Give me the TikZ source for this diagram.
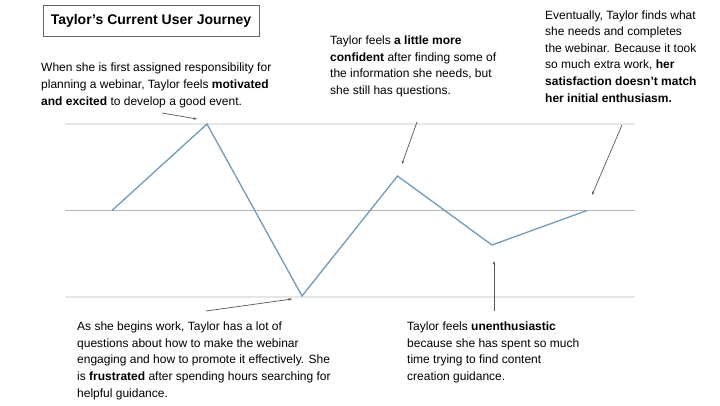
\documentclass[tikz,border=0pt]{standalone}
\usepackage{fontspec}
\setmainfont{Liberation Sans}
\usetikzlibrary{arrows.meta,calc}
\definecolor{journeyBlue}{HTML}{6F9ABB}
\definecolor{gridLight}{HTML}{E6E6E6}
\definecolor{gridMid}{HTML}{B5B5B5}
\definecolor{pointerGray}{HTML}{555555}
\definecolor{boxGray}{HTML}{666666}

\begin{document}
\begin{tikzpicture}[x=1pt,y=-1pt,
  note/.style={anchor=north west,inner sep=0pt,align=left,font=\fontsize{12}{16.6}\selectfont},
  pointer/.style={-{Stealth[length=3.5pt,width=2.6pt]},pointerGray,line width=.7pt}]
  \useasboundingbox (0,0) rectangle (720,405);

  \node[draw=boxGray,line width=.8pt,minimum width=216pt,minimum height=31pt,
    font=\fontsize{14}{16}\selectfont\bfseries] (title) at (151,20.5) {Taylor’s Current User Journey};

  \draw[gridLight,line width=1.5pt] (65,124) -- (635,124);
  \draw[gridMid,line width=1.5pt] (65,210.5) -- (635,210.5);
  \draw[gridLight,line width=1.5pt] (65,297) -- (635,297);

  \coordinate (start) at (112,210.5);
  \coordinate (peak) at (207,124);
  \coordinate (low) at (302,296);
  \coordinate (rise) at (397.5,176);
  \coordinate (dip) at (492,245);
  \coordinate (finish) at (587,210.5);
  \draw[journeyBlue,line width=1.3pt,line join=miter]
    (start) -- (peak) -- (low) -- (rise) -- (dip) -- (finish);

  \node[note] (excited) at (41,63) {When she is first assigned responsibility for\\
    planning a webinar, Taylor feels \textbf{motivated}\\
    \textbf{and excited} to develop a good event.};
  \node[note] (confident) at (330,35.7) {Taylor feels \textbf{a little more}\\
    \textbf{confident} after finding some of\\
    the information she needs, but\\
    she still has questions.};
  \node[note] (satisfied) at (545,10.2) {Eventually, Taylor finds what\\
    she needs and completes\\
    the webinar. Because it took\\
    so much extra work, \textbf{her}\\
    \textbf{satisfaction doesn’t match}\\
    \textbf{her initial enthusiasm.}};
  \node[note] (frustrated) at (77,321.7) {As she begins work, Taylor has a lot of\\
    questions about how to make the webinar\\
    engaging and how to promote it effectively. She\\
    is \textbf{frustrated} after spending hours searching for\\
    helpful guidance.};
  \node[note] (flat) at (407,321.7) {Taylor feels \textbf{unenthusiastic}\\
    because she has spent so much\\
    time trying to find content\\
    creation guidance.};

  \coordinate (excited tail) at (162,113);
  \coordinate (excited tip) at (197,119);
  \coordinate (frustrated tail) at (206,311);
  \coordinate (frustrated tip) at (292,299);
  \coordinate (confident tail) at (417,122);
  \coordinate (confident tip) at (402,164);
  \coordinate (satisfied tail) at (622,125);
  \coordinate (satisfied tip) at (592,195);
  \coordinate (flat tail) at (494,311);
  \coordinate (flat tip) at (494,261);
  \draw[pointer] (excited tail) -- (excited tip);
  \draw[pointer] (frustrated tail) -- (frustrated tip);
  \draw[pointer] (confident tail) -- (confident tip);
  \draw[pointer] (satisfied tail) -- (satisfied tip);
  \draw[pointer] (flat tail) -- (flat tip);
\end{tikzpicture}
\end{document}
